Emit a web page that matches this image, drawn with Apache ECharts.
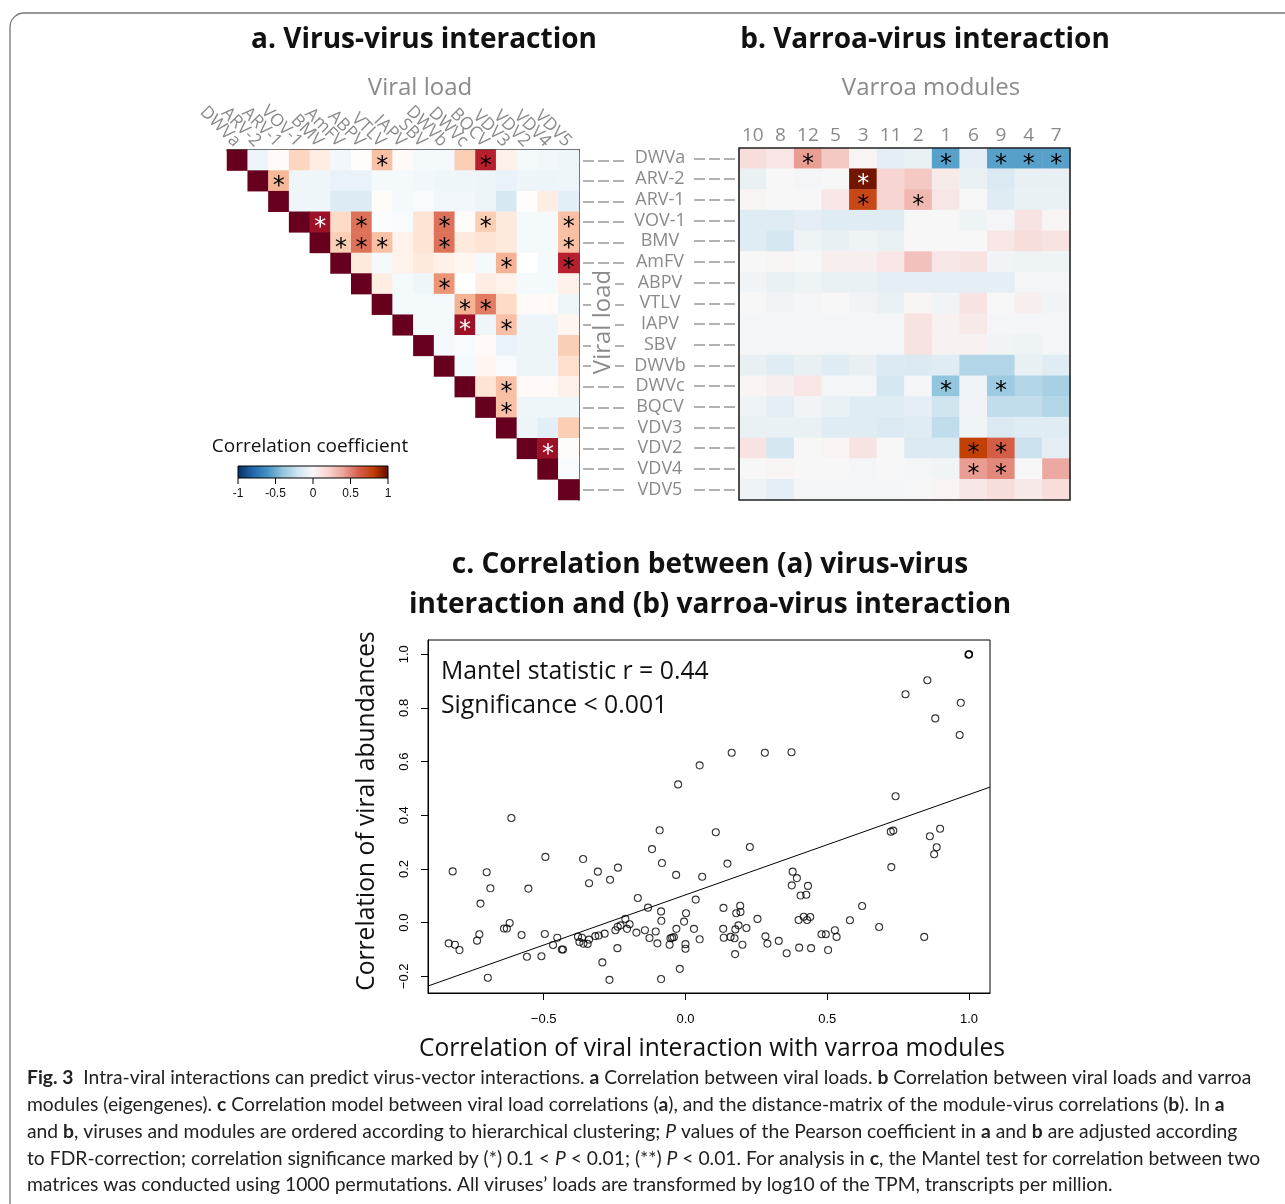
<!DOCTYPE html>
<html><head><meta charset="utf-8">
<script src="https://cdn.jsdelivr.net/npm/echarts@6/dist/echarts.min.js"></script>
<style>html,body{margin:0;padding:0;background:#fff}#c{width:1285px;height:1204px}</style>
</head><body><div id="c"></div>
<script>
// ---------------- DATA ----------------
const viruses = ['DWVa','ARV-2','ARV-1','VOV-1','BMV','AmFV','ABPV','VTLV','IAPV','SBV','DWVb','DWVc','BQCV','VDV3','VDV2','VDV4','VDV5'];
const modules = ['10','8','12','5','3','11','2','1','6','9','4','7'];

// virus-virus correlations: row r lists values for columns r..16 (upper triangle incl. diagonal)
const vvRows = [
  [1, -0.08, 0.02, 0.22, 0.1, -0.06, 0.01, 0.3, 0.03, -0.05, -0.05, 0.25, 0.78, 0.08, -0.05, -0.06, -0.07],
  [1, 0.33, -0.07, -0.07, -0.1, -0.1, -0.05, -0.05, -0.06, -0.07, -0.07, -0.08, -0.1, -0.08, -0.08, -0.07],
  [1, -0.07, -0.07, -0.15, -0.15, 0.02, -0.05, -0.03, -0.06, -0.06, -0.08, -0.18, 0.01, 0.1, -0.12],
  [1, 0.86, 0.2, 0.55, -0.02, -0.03, 0.15, 0.55, 0.02, 0.25, 0.12, -0.05, -0.05, 0.3],
  [1, 0.25, 0.55, 0.3, 0.07, 0.15, 0.55, 0.12, 0.15, 0.12, -0.05, -0.05, 0.3],
  [1, 0.12, -0.05, 0.07, 0.12, 0.08, 0.05, -0.05, 0.35, 0.0, -0.05, 0.78],
  [1, 0.1, -0.05, -0.07, 0.45, 0.0, 0.1, 0.07, -0.05, -0.05, 0.08],
  [1, -0.05, -0.05, -0.05, 0.35, 0.52, 0.2, 0.03, 0.03, -0.07],
  [1, -0.05, -0.05, 0.86, -0.07, 0.3, -0.08, -0.08, 0.05],
  [1, -0.05, -0.03, 0.03, -0.1, -0.08, -0.08, 0.25],
  [1, -0.05, 0.05, -0.03, -0.08, -0.08, 0.18],
  [1, 0.15, 0.3, 0.03, 0.03, 0.08],
  [1, 0.3, -0.07, -0.07, -0.07],
  [1, -0.08, -0.12, 0.25],
  [1, 0.86, 0.02],
  [1, -0.03],
  [1]
];
// significant virus-virus pairs [row, col]
const vvStars = [[0,7],[0,12],[1,2],[3,4],[3,6],[3,10],[3,12],[3,16],[4,5],[4,6],[4,7],[4,10],[4,16],[5,13],[5,16],[6,10],[7,11],[7,12],[8,11],[8,13],[11,13],[12,13],[14,15]];

// varroa module - virus correlations, rows = viruses, columns = modules
const mvRows = [
  [0.15, 0.1, 0.42, 0.25, 0.02, -0.1, -0.07, -0.55, -0.1, -0.55, -0.55, -0.55],
  [-0.07, 0.0, -0.02, 0.0, 0.96, 0.2, 0.25, 0.07, -0.07, -0.15, -0.08, -0.08],
  [0.02, 0.0, 0.0, 0.1, 0.75, 0.2, 0.32, 0.1, 0.0, -0.12, -0.07, -0.07],
  [-0.12, -0.12, -0.1, -0.12, -0.12, -0.12, 0.0, 0.0, -0.05, -0.02, 0.12, 0.02],
  [-0.12, -0.18, -0.05, -0.08, -0.05, -0.07, 0.0, 0.0, 0.0, 0.1, 0.15, 0.12],
  [0.0, 0.02, 0.0, 0.05, 0.05, 0.1, 0.28, 0.1, 0.12, -0.03, -0.05, -0.05],
  [-0.03, -0.07, -0.05, -0.07, -0.07, -0.1, -0.1, -0.1, -0.1, -0.1, -0.02, -0.02],
  [0.0, -0.03, -0.02, 0.0, -0.03, -0.07, 0.02, -0.03, 0.12, 0.0, 0.05, -0.03],
  [-0.02, -0.02, -0.02, -0.02, -0.02, -0.02, 0.12, 0.03, 0.08, -0.02, -0.02, -0.02],
  [-0.02, -0.02, -0.02, -0.02, -0.02, -0.02, 0.12, 0.03, 0.03, -0.03, -0.05, -0.02],
  [-0.08, -0.12, -0.08, -0.12, -0.08, -0.15, -0.15, -0.12, -0.3, -0.3, -0.08, -0.12],
  [0.02, 0.05, 0.1, -0.02, -0.02, -0.18, -0.02, -0.4, -0.03, -0.36, -0.3, -0.33],
  [-0.05, -0.1, -0.03, -0.07, -0.12, -0.12, -0.1, -0.2, -0.03, -0.25, -0.25, -0.3],
  [-0.07, -0.07, -0.07, -0.12, -0.12, -0.15, -0.12, -0.25, -0.03, -0.15, -0.12, -0.12],
  [0.12, -0.18, 0.0, 0.02, 0.12, 0.0, -0.15, -0.15, 0.8, 0.62, -0.22, -0.1],
  [0.0, 0.02, 0.0, 0.0, -0.02, 0.0, -0.02, -0.03, 0.42, 0.48, 0.0, 0.38],
  [-0.05, -0.1, -0.02, -0.02, -0.02, -0.02, 0.0, 0.02, 0.1, 0.15, 0.08, 0.15]
];
// significant module-virus pairs [virusRow, moduleCol]
const mvStars = [[0,2],[0,7],[0,9],[0,10],[0,11],[1,4],[2,4],[2,6],[11,7],[11,9],[14,8],[14,9],[15,8],[15,9]];

// Mantel scatter: [x = correlation with varroa modules, y = correlation of viral abundances]
const mantelPoints = [
  [-0.614,0.390],[-0.091,0.344],[0.107,0.337],[-0.821,0.191],[-0.701,0.188],[-0.494,0.245],[-0.361,0.237],
  [-0.118,0.274],[-0.083,0.222],[-0.309,0.190],[-0.238,0.205],[-0.033,0.178],[0.059,0.171],[-0.340,0.147],
  [-0.266,0.160],[-0.688,0.128],[-0.554,0.127],[-0.723,0.071],[-0.168,0.092],[-0.132,0.056],[0.036,0.086],
  [-0.086,0.042],[0.002,0.035],[-0.085,0.007],[-0.212,0.014],[-0.005,0.004],[-0.620,-0.001],[-0.640,-0.022],
  [-0.630,-0.022],[-0.727,-0.043],[-0.735,-0.067],[-0.578,-0.046],[-0.496,-0.042],[-0.452,-0.056],[-0.467,-0.083],
  [-0.432,-0.100],[-0.436,-0.100],[-0.835,-0.077],[-0.813,-0.082],[-0.797,-0.102],[-0.559,-0.127],[-0.508,-0.125],
  [-0.697,-0.205],[-0.379,-0.052],[-0.365,-0.056],[-0.374,-0.072],[-0.360,-0.078],[-0.345,-0.079],[-0.340,-0.063],
  [-0.318,-0.050],[-0.306,-0.048],[-0.285,-0.041],[-0.293,-0.148],[-0.268,-0.213],[-0.247,-0.028],[-0.239,-0.015],
  [-0.229,-0.010],[-0.206,-0.023],[-0.197,-0.006],[-0.173,-0.037],[-0.240,-0.095],[-0.143,-0.028],[-0.127,-0.057],
  [-0.105,-0.033],[-0.099,-0.077],[-0.086,-0.210],[-0.056,-0.082],[-0.053,-0.058],[-0.047,-0.056],[-0.041,-0.054],
  [-0.032,-0.023],[-0.020,-0.172],[0.000,-0.080],[0.000,-0.097],[0.030,-0.023],[0.050,-0.062],
  [0.227,0.282],[0.148,0.220],[0.724,0.339],[0.733,0.343],[0.862,0.322],[0.898,0.350],[0.886,0.281],
  [0.877,0.255],[0.726,0.207],[0.378,0.190],[0.393,0.166],[0.375,0.139],[0.432,0.137],[0.406,0.101],
  [0.426,0.104],[0.134,0.055],[0.193,0.063],[0.179,0.035],[0.194,0.040],[0.254,0.014],[0.623,0.062],
  [0.580,0.009],[0.399,0.010],[0.417,0.022],[0.429,0.010],[0.440,0.021],[0.133,-0.023],[0.176,-0.025],
  [0.187,-0.010],[0.215,-0.020],[0.135,-0.056],[0.159,-0.053],[0.173,-0.058],[0.201,-0.082],[0.175,-0.117],
  [0.282,-0.051],[0.289,-0.078],[0.329,-0.068],[0.357,-0.114],[0.401,-0.093],[0.443,-0.095],[0.480,-0.043],
  [0.495,-0.043],[0.527,-0.028],[0.533,-0.053],[0.503,-0.102],[0.683,-0.016],[0.842,-0.053],
  [1.0,1.0],[1.0,1.0],[0.998,0.998],[0.853,0.903],[0.776,0.851],[0.971,0.819],[0.881,0.761],[0.967,0.699],
  [0.163,0.633],[0.280,0.633],[0.374,0.635],[0.050,0.586],[-0.026,0.515],[0.741,0.471]
];
// fitted line end points
const fitLineX = [-0.908, 1.074];
const fitLineY = [-0.236, 0.505];

const xTicksC = [-0.5, 0, 0.5, 1.0];
const yTicksC = [-0.2, 0, 0.2, 0.4, 0.6, 0.8, 1.0];
const cbTicks = [-1, -0.5, 0, 0.5, 1];

// ---------------- STYLE ----------------
const paletteA = ['#053061','#2166AC','#4393C3','#92C5DE','#D1E5F0','#FFFFFF','#FDDBC7','#F4A582','#D6604D','#B2182B','#67001F'];
const paletteB = ['#053061','#2166AC','#4393C3','#92C5DE','#D1E5F0','#F7F7F7','#F7D5D2','#EBA49B','#D6604D','#C23F05','#5E0B00'];
const GRAY = '#8a8a8a';
const SANS = 'Open Sans';
const CAP = 19.3;

function starLabel(v) {
  return {show: true, formatter: '*', color: v >= 0.82 ? '#fff' : '#000', fontSize: 24, fontFamily: 'DejaVu Sans', offset: [0, 6]};
}
const vvStarSet = new Set(vvStars.map(p => p[0] + '_' + p[1]));
const mvStarSet = new Set(mvStars.map(p => p[0] + '_' + p[1]));

const vvData = [];
vvRows.forEach((row, r) => row.forEach((v, k) => {
  const c = r + k;
  const item = {value: [c, r, v]};
  if (vvStarSet.has(r + '_' + c)) item.label = starLabel(v);
  vvData.push(item);
}));
const mvData = [];
mvRows.forEach((row, r) => row.forEach((v, c) => {
  const item = {value: [c, r, v]};
  if (mvStarSet.has(r + '_' + c)) item.label = starLabel(v);
  mvData.push(item);
}));

const fmtMinus = v => (Math.abs(v) < 1e-9 ? '0.0' : v.toFixed(1)).replace('-', '\u2212');

const chart = echarts.init(document.getElementById('c'), null, {renderer: 'canvas'});

function txt(x, y, text, opt) {
  return Object.assign({type: 'text', x: x, y: y, z: 50, style: Object.assign({
    text: text, fontFamily: SANS, fontSize: 24, fill: '#111', align: 'center', verticalAlign: 'middle'}, opt && opt.style || {})},
    opt && opt.el || {});
}

const captionRich = {
  b: {fontWeight: 'bold', fontFamily: 'Lato', fontSize: CAP, fill: '#222'},
  i: {fontStyle: 'italic', fontFamily: 'Lato', fontSize: CAP, fill: '#222'}
};
const captionLines = [
  '{b|Fig. 3}  Intra-viral interactions can predict virus-vector interactions. {b|a} Correlation between viral loads. {b|b} Correlation between viral loads and varroa',
  'modules (eigengenes). {b|c} Correlation model between viral load correlations ({b|a}), and the distance-matrix of the module-virus correlations ({b|b}). In {b|a}',
  'and {b|b}, viruses and modules are ordered according to hierarchical clustering; {i|P} values of the Pearson coefficient in {b|a} and {b|b} are adjusted according',
  'to FDR-correction; correlation significance marked by (*) 0.1 < {i|P} < 0.01; (**) {i|P} < 0.01. For analysis in {b|c}, the Mantel test for correlation between two',
  'matrices was conducted using 1000 permutations. All viruses\u2019 loads are transformed by log10 of the TPM, transcripts per million.'
];

const graphics = [
  {type: 'rect', shape: {x: 10, y: 13, width: 1320, height: 1300, r: 14}, style: {fill: 'none', stroke: '#777', lineWidth: 1.3}, z: 1},
  txt(424, 40, 'a. Virus-virus interaction', {style: {fontWeight: 'bold', fontSize: 28}}),
  txt(925, 40, 'b. Varroa-virus interaction', {style: {fontWeight: 'bold', fontSize: 28}}),
  txt(420, 88, 'Viral load', {style: {fill: GRAY, fontSize: 24}}),
  txt(931, 88, 'Varroa modules', {style: {fill: GRAY, fontSize: 24}}),
  txt(603, 322, 'Viral load', {style: {fill: GRAY, fontSize: 24, backgroundColor: '#fff', padding: [0, 2, 0, 2]}, el: {rotation: Math.PI / 2, z: 60}}),
  txt(310, 447, 'Correlation coefficient', {style: {fontSize: 19}}),
  {type: 'rect', z: 50, shape: {x: 238, y: 466, width: 150, height: 12},
    style: {fill: new echarts.graphic.LinearGradient(0, 0, 1, 0, paletteB.map((c, i) => ({offset: i / (paletteB.length - 1), color: c}))), stroke: '#000', lineWidth: 1}},
  {type: 'rect', z: 70, shape: {x: 739, y: 148, width: 331, height: 352}, style: {fill: 'none', stroke: '#222', lineWidth: 1.6}},
  txt(710, 565, 'c. Correlation between (a) virus-virus', {style: {fontWeight: 'bold', fontSize: 28}}),
  txt(710, 605, 'interaction and (b) varroa-virus interaction', {style: {fontWeight: 'bold', fontSize: 28}}),
  txt(441, 672, 'Mantel statistic r = 0.44', {style: {align: 'left', fontSize: 24.8}}),
  txt(441, 706, 'Significance < 0.001', {style: {align: 'left', fontSize: 24.8}}),
  txt(367, 811, 'Correlation of viral abundances', {style: {fontSize: 24.6}, el: {rotation: Math.PI / 2}}),
  txt(712, 1049, 'Correlation of viral interaction with varroa modules', {style: {fontSize: 24.6}})
];
cbTicks.forEach(t => {
  const x = 238 + (t + 1) / 2 * 150;
  graphics.push({type: 'line', z: 50, shape: {x1: x, y1: 478, x2: x, y2: 484}, style: {stroke: '#000', lineWidth: 1}});
  graphics.push(txt(x, 494, String(t), {style: {fontSize: 12, fontFamily: 'Liberation Sans'}}));
});
captionLines.forEach((l, i) => {
  graphics.push({type: 'text', x: 27, y: 1078 + i * 26.8, z: 50,
    style: {text: l, rich: captionRich, fontFamily: 'Lato', fontSize: CAP, fill: '#222', align: 'left', verticalAlign: 'middle'}});
});

const option = {
  backgroundColor: '#fff',
  animation: false,
  grid: [
    {left: 227, top: 150, width: 352, height: 350},
    {left: 739, top: 148, width: 331, height: 352},
    {left: 428, top: 640, width: 562, height: 353, show: true, borderColor: '#000', borderWidth: 1, backgroundColor: 'transparent'}
  ],
  xAxis: [
    {gridIndex: 0, type: 'category', data: viruses, position: 'top',
      axisLine: {show: true, lineStyle: {color: '#111', width: 1.5}}, axisTick: {show: false}, splitLine: {show: false},
      axisLabel: {rotate: 45, margin: 6, color: GRAY, fontSize: 17.5, fontFamily: SANS, interval: 0}},
    {gridIndex: 1, type: 'category', data: modules, position: 'top',
      axisLine: {show: false}, axisTick: {show: false}, splitLine: {show: false},
      axisLabel: {margin: 3, color: GRAY, fontSize: 19, fontFamily: SANS, interval: 0}},
    {gridIndex: 2, type: 'value', min: -0.908, max: 1.074,
      axisLine: {show: true, onZero: false, lineStyle: {color: '#000', width: 1}},
      axisTick: {show: true, length: 7, customValues: xTicksC, lineStyle: {color: '#000'}},
      splitLine: {show: false},
      axisLabel: {customValues: xTicksC, formatter: fmtMinus, margin: 20, color: '#000', fontSize: 13, fontFamily: 'Liberation Sans'}}
  ],
  yAxis: [
    {gridIndex: 0, type: 'category', data: viruses, inverse: true, position: 'right',
      axisLine: {show: true, lineStyle: {color: '#111', width: 1.5}},
      axisTick: {show: true, alignWithLabel: true, length: 46, lineStyle: {color: '#999', width: 1.5, type: [11, 4], dashOffset: 11}},
      axisLabel: {show: false}, splitLine: {show: false}},
    {gridIndex: 1, type: 'category', data: viruses, inverse: true, position: 'left',
      axisLine: {show: false},
      axisTick: {show: true, alignWithLabel: true, length: 45, lineStyle: {color: '#999', width: 1.5, type: [11, 4], dashOffset: 11}},
      axisLabel: {show: true, align: 'center', margin: 79, color: GRAY, fontSize: 18, fontFamily: SANS, interval: 0},
      splitLine: {show: false}},
    {gridIndex: 2, type: 'value', min: -0.262, max: 1.053,
      axisLine: {show: true, onZero: false, lineStyle: {color: '#000', width: 1}},
      axisTick: {show: true, length: 7, customValues: yTicksC, lineStyle: {color: '#000'}},
      splitLine: {show: false},
      axisLabel: {customValues: yTicksC, formatter: fmtMinus, rotate: 90, margin: 17, color: '#000', fontSize: 13, fontFamily: 'Liberation Sans'}}
  ],
  visualMap: [
    {show: false, type: 'continuous', seriesIndex: 0, dimension: 2, min: -1, max: 1, inRange: {color: paletteA}},
    {show: false, type: 'continuous', seriesIndex: 1, dimension: 2, min: -1, max: 1, inRange: {color: paletteB}}
  ],
  series: [
    {type: 'heatmap', xAxisIndex: 0, yAxisIndex: 0, data: vvData, label: {show: false}, emphasis: {disabled: true}, z: 2},
    {type: 'heatmap', xAxisIndex: 1, yAxisIndex: 1, data: mvData, label: {show: false}, emphasis: {disabled: true}, z: 2},
    {type: 'scatter', xAxisIndex: 2, yAxisIndex: 2, data: mantelPoints, symbol: 'circle', symbolSize: 7,
      itemStyle: {color: 'rgba(0,0,0,0)', borderColor: '#000', borderWidth: 1.1}, emphasis: {disabled: true}, z: 3},
    {type: 'line', xAxisIndex: 2, yAxisIndex: 2, data: fitLineX.map((x, i) => [x, fitLineY[i]]), showSymbol: false, symbol: 'none',
      lineStyle: {color: '#000', width: 1}, clip: true, emphasis: {disabled: true}, z: 3}
  ],
  graphic: graphics
};
chart.setOption(option);
</script></body></html>
